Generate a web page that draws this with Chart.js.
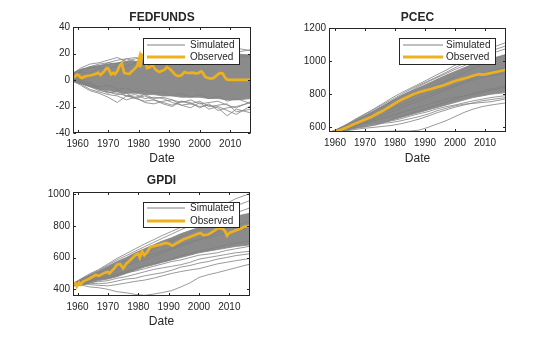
<!DOCTYPE html>
<html>
<head>
<meta charset="utf-8">
<script src="https://cdn.jsdelivr.net/npm/chart.js@4"></script>
<style>
  html, body { margin: 0; background: #fff; }
  #fig { position: relative; width: 560px; height: 337px; overflow: hidden; }
  #fig canvas { position: absolute; }
</style>
</head>
<body>
<div id="fig">
  <canvas id="fedfunds" width="280" height="168" style="left:0;top:0"></canvas>
  <canvas id="pcec" width="280" height="168" style="left:280px;top:0"></canvas>
  <canvas id="gpdi" width="280" height="172" style="left:0;top:165px"></canvas>
</div>
<script>
const dateTicks = [1960, 1970, 1980, 1990, 2000, 2010];

// grid shared by the simulated paths and the band of the bulk of them
const simYears = [1958, 1961, 1964, 1967, 1970, 1973, 1976, 1979, 1982, 1985, 1988, 1991, 1994, 1997, 2000, 2003, 2006, 2009, 2012, 2017];

// ---- FEDFUNDS
const fedTicks = [-40, -20, 0, 20, 40];
const fedYears = [1958, 1959.25, 1959.75, 1960.0, 1960.5, 1961.0, 1961.5, 1962.0, 1963.0, 1964.0, 1965.0, 1966.0, 1966.75, 1967.5, 1968.5, 1969.5, 1970.0, 1971.0, 1971.75, 1972.25, 1973.0, 1973.75, 1974.5, 1975.25, 1976.0, 1977.0, 1977.75, 1978.5, 1979.5, 1980.25, 1980.5, 1981.0, 1981.5, 1982.25, 1982.75, 1983.5, 1984.5, 1985.5, 1986.75, 1987.5, 1988.5, 1989.25, 1990.25, 1991.0, 1992.0, 1993.0, 1994.0, 1995.0, 1996.0, 1997.5, 1998.75, 1999.5, 2000.5, 2001.0, 2001.75, 2002.5, 2003.5, 2004.5, 2005.5, 2006.5, 2007.5, 2008.0, 2008.75, 2009.5, 2012.0, 2015.75, 2017];
const fedObserved = [1.5, 2.8, 3.9, 4.0, 3.2, 1.8, 1.5, 2.2, 3.0, 3.4, 4.0, 4.6, 5.5, 3.8, 6.0, 9.0, 8.9, 4.2, 5.4, 4.3, 6.5, 10.5, 12.5, 5.5, 4.9, 4.7, 6.5, 8.0, 10.5, 17.0, 9.5, 19.0, 18.0, 14.0, 9.0, 9.5, 11.5, 7.9, 6.0, 6.7, 7.8, 9.8, 8.2, 6.5, 3.8, 3.0, 3.5, 6.0, 5.3, 5.5, 5.0, 5.1, 6.5, 5.6, 2.5, 1.7, 1.0, 1.4, 3.3, 5.25, 5.0, 3.0, 0.5, 0.15, 0.15, 0.15, 0.4];
const fedBandHi = [5, 8, 10, 11, 12, 13, 14, 14, 15, 15, 16, 16, 17, 17, 18, 18, 19, 19, 19, 19];
const fedBandLo = [-1, -3, -5, -7, -8, -9, -10, -10, -11, -11, -12, -12, -13, -13, -13, -14, -14, -15, -15, -14];
const fedSim = [
  [4, 9, 12, 13, 15, 17, 14, 16, 18, 17, 16, 19, 18, 17, 20, 19, 21, 22, 24, 22],
  [2, 7, 10, 12, 13, 12, 16, 17, 15, 18, 19, 17, 19, 20, 18, 21, 20, 19, 21, 23],
  [0, -4, -8, -10, -13, -17, -12, -14, -16, -15, -17, -19, -16, -18, -20, -19, -21, -27, -22, -25],
  [1, -3, -7, -9, -11, -12, -15, -13, -17, -18, -16, -15, -19, -21, -17, -22, -20, -23, -26, -19],
  [3, -2, -5, -8, -9, -11, -10, -14, -12, -15, -18, -20, -16, -17, -21, -18, -23, -21, -20, -17],
  [2, -1, -4, -7, -10, -8, -12, -11, -14, -13, -14, -17, -19, -18, -16, -20, -19, -18, -24, -22],
  [4, 8, 9, 10, 13, 15, 16, 14, 13, 16, 18, 16, 15, 19, 17, 18, 17, 21, 20, 18],
  [1, -2, -3, -6, -9, -10, -12, -13, -11, -14, -13, -15, -17, -15, -18, -17, -16, -19, -21, -16],
  [3, 6, 5, 9, 8, 11, 10, 13, 12, 14, 13, 15, 14, 16, 15, 17, 16, 17, 18, 17],
  [2, 0, -2, -5, -4, -7, -6, -9, -8, -10, -9, -12, -10, -13, -11, -14, -12, -16, -14, -18]
];

// ---- PCEC
const pcecTicks = [600, 800, 1000, 1200];
const pcecYears = [1958, 1960, 1962, 1964, 1966, 1968, 1970, 1972, 1974, 1976, 1978, 1980, 1982, 1984, 1986, 1988, 1990, 1992, 1994, 1996, 1998, 2000, 2002, 2004, 2006, 2008, 2009, 2010, 2012, 2014, 2017];
const pcecObserved = [566, 574, 585, 600, 617, 632, 648, 662, 682, 700, 722, 745, 765, 782, 798, 812, 823, 832, 843, 853, 866, 880, 890, 900, 912, 921, 918, 920, 928, 936, 948];
const pcecBandHi = [568, 590, 615, 645, 672, 700, 730, 760, 790, 815, 840, 865, 890, 915, 938, 960, 982, 998, 1015, 1040];
const pcecBandLo = [566, 575, 588, 600, 612, 622, 633, 645, 660, 675, 690, 705, 720, 735, 750, 765, 780, 790, 800, 810];
const pcecSim = [
  [568, 592, 620, 652, 682, 712, 745, 778, 808, 835, 862, 890, 918, 945, 975, 1000, 1030, 1055, 1080, 1112],
  [567, 590, 617, 648, 678, 708, 738, 768, 798, 828, 855, 880, 905, 932, 960, 988, 1015, 1040, 1062, 1092],
  [567, 588, 612, 640, 668, 698, 728, 760, 790, 818, 848, 875, 900, 925, 950, 972, 995, 1020, 1045, 1075],
  [566, 570, 572, 574, 575, 575, 576, 577, 578, 578, 583, 600, 620, 640, 665, 690, 710, 725, 735, 748],
  [567, 578, 590, 600, 605, 612, 625, 630, 640, 652, 665, 680, 700, 715, 730, 740, 745, 750, 755, 772],
  [567, 575, 585, 598, 610, 620, 628, 640, 652, 668, 682, 695, 712, 725, 735, 748, 760, 770, 780, 792],
  [567, 582, 598, 612, 625, 640, 655, 672, 688, 705, 722, 738, 755, 770, 782, 790, 800, 810, 825, 842],
  [567, 585, 605, 625, 648, 670, 690, 712, 735, 755, 775, 795, 815, 835, 855, 870, 885, 900, 910, 927],
  [567, 580, 595, 610, 630, 650, 672, 695, 718, 740, 760, 780, 802, 825, 848, 872, 895, 918, 940, 962],
  [567, 586, 608, 632, 655, 680, 705, 730, 756, 780, 805, 830, 855, 880, 905, 930, 955, 980, 1005, 1040],
  [567, 572, 580, 588, 595, 600, 606, 612, 622, 635, 650, 668, 688, 705, 722, 735, 748, 760, 768, 780],
  [567, 576, 583, 594, 602, 615, 630, 648, 665, 682, 700, 718, 735, 752, 770, 788, 805, 820, 832, 850]
];

// ---- GPDI
const gpdiTicks = [400, 600, 800, 1000];
const gpdiYears = [1958, 1959.25, 1959.75, 1960.5, 1961, 1961.75, 1962.5, 1964, 1966, 1967, 1969, 1970, 1970.5, 1972, 1973, 1974, 1975, 1976, 1978, 1979, 1980, 1980.5, 1981.25, 1982, 1983, 1984, 1985, 1987, 1989, 1990, 1991.25, 1993, 1995, 1997, 1999, 2000.5, 2001.5, 2003, 2005, 2006, 2007.5, 2008.5, 2009.25, 2010, 2012, 2014, 2015, 2017];
const gpdiObserved = [425, 440, 418, 442, 430, 448, 455, 468, 490, 485, 505, 510, 500, 530, 555, 560, 532, 560, 595, 615, 625, 600, 640, 615, 635, 668, 672, 680, 692, 688, 675, 695, 715, 730, 745, 755, 740, 745, 768, 783, 785, 770, 738, 755, 770, 785, 795, 800];
const gpdiBandHi = [432, 460, 490, 515, 545, 575, 600, 630, 655, 680, 705, 725, 750, 770, 790, 810, 830, 845, 860, 880];
const gpdiBandLo = [420, 425, 440, 455, 465, 480, 500, 520, 540, 555, 570, 585, 600, 615, 630, 640, 650, 660, 670, 680];
const gpdiSim = [
  [430, 428, 415, 410, 400, 385, 378, 368, 362, 370, 380, 392, 415, 440, 475, 492, 505, 520, 535, 560],
  [428, 435, 430, 425, 422, 430, 440, 450, 458, 470, 485, 500, 512, 522, 530, 545, 560, 570, 580, 595],
  [435, 440, 445, 448, 455, 470, 480, 495, 510, 525, 535, 545, 555, 570, 590, 600, 610, 620, 630, 640],
  [430, 465, 498, 525, 560, 595, 625, 655, 685, 712, 740, 765, 790, 820, 850, 880, 910, 940, 970, 1005],
  [432, 462, 492, 520, 552, 585, 612, 640, 668, 695, 722, 748, 775, 800, 825, 850, 875, 900, 925, 960],
  [428, 450, 470, 495, 520, 540, 560, 585, 605, 625, 640, 660, 680, 700, 715, 725, 740, 755, 770, 790],
  [425, 440, 458, 470, 485, 500, 512, 530, 548, 560, 575, 590, 610, 625, 640, 650, 665, 680, 690, 705],
  [430, 455, 480, 505, 530, 555, 580, 600, 625, 650, 680, 705, 730, 755, 780, 805, 830, 855, 880, 915],
  [426, 445, 462, 480, 505, 522, 548, 570, 585, 610, 630, 652, 672, 690, 712, 735, 760, 785, 800, 830],
  [428, 432, 438, 435, 440, 452, 465, 470, 485, 495, 505, 520, 540, 550, 565, 575, 590, 600, 612, 625],
  [430, 438, 452, 465, 470, 490, 505, 515, 530, 545, 560, 575, 585, 600, 615, 622, 630, 645, 655, 672]
];

const INK = "#262626";
const SIM_GREY = "#808080";
const OBS_ORANGE = "#EDB120";
const FONT = "'Liberation Sans', Arial, Helvetica, sans-serif";

function pts(xs, ys) {
  return xs.map((x, i) => ({ x: x, y: ys[i] }));
}

// box, inward ticks, title and legend in MATLAB axes style
const axesFrame = {
  id: "axesFrame",
  afterDatasetsDraw(chart, args, opts) {
    const ctx = chart.ctx;
    const a = chart.chartArea;
    const L = Math.round(a.left) + 0.5, R = Math.round(a.right) - 0.5;
    const T = Math.round(a.top) + 0.5, B = Math.round(a.bottom) - 0.5;
    ctx.save();
    ctx.strokeStyle = INK;
    ctx.lineWidth = 1;
    ctx.strokeRect(L, T, R - L, B - T);

    const tk = 2.5;
    ctx.beginPath();
    chart.scales.x.ticks.forEach(t => {
      const px = Math.round(chart.scales.x.getPixelForValue(t.value)) + 0.5;
      ctx.moveTo(px, B); ctx.lineTo(px, B - tk);
      ctx.moveTo(px, T); ctx.lineTo(px, T + tk);
    });
    chart.scales.y.ticks.forEach(t => {
      const py = Math.round(chart.scales.y.getPixelForValue(t.value)) + 0.5;
      ctx.moveTo(L, py); ctx.lineTo(L + tk, py);
      ctx.moveTo(R, py); ctx.lineTo(R - tk, py);
    });
    ctx.stroke();

    // title
    ctx.fillStyle = INK;
    ctx.font = "bold 12px " + FONT;
    ctx.textAlign = "center";
    ctx.textBaseline = "middle";
    ctx.fillText(opts.title, (a.left + a.right) / 2, opts.titleY);

    // legend
    const lg = opts.legend;
    ctx.fillStyle = "#fff";
    ctx.fillRect(lg.x, lg.y, lg.w, lg.h);
    ctx.strokeStyle = INK;
    ctx.lineWidth = 1;
    ctx.strokeRect(lg.x + 0.5, lg.y + 0.5, lg.w - 1, lg.h - 1);
    ctx.beginPath();
    ctx.strokeStyle = SIM_GREY;
    ctx.lineWidth = 1;
    ctx.moveTo(lg.x0, lg.r1); ctx.lineTo(lg.x1, lg.r1);
    ctx.stroke();
    ctx.beginPath();
    ctx.strokeStyle = OBS_ORANGE;
    ctx.lineWidth = 3;
    ctx.moveTo(lg.x0, lg.r2); ctx.lineTo(lg.x1, lg.r2);
    ctx.stroke();
    ctx.fillStyle = INK;
    ctx.font = "10px " + FONT;
    ctx.textAlign = "left";
    ctx.fillText("Simulated", lg.tx, lg.r1);
    ctx.fillText("Observed", lg.tx, lg.r2);
    ctx.restore();
  }
};

function makePanel(id, p) {
  const canvas = document.getElementById(id);
  const H = canvas.height, W = canvas.width;
  const datasets = [];
  datasets.push({
    data: pts(p.obsYears, p.observed),
    borderColor: OBS_ORANGE,
    borderWidth: 2.7,
    pointRadius: 0,
    fill: false
  });
  p.sims.forEach(s => datasets.push({
    data: pts(simYears, s),
    borderColor: SIM_GREY,
    borderWidth: 0.8,
    pointRadius: 0,
    fill: false
  }));
  // upper edge of the bulk of the paths, filled down to the lower edge
  datasets.push({
    data: pts(simYears, p.bandHi),
    borderColor: SIM_GREY,
    borderWidth: 0.8,
    backgroundColor: "#8b8b8b",
    pointRadius: 0,
    fill: "+1"
  });
  datasets.push({
    data: pts(simYears, p.bandLo),
    borderColor: SIM_GREY,
    borderWidth: 0.8,
    pointRadius: 0,
    fill: false
  });

  return new Chart(canvas, {
    type: "line",
    data: { datasets: datasets },
    options: {
      responsive: false,
      animation: false,
      devicePixelRatio: 1,
      clip: 0,
      layout: { padding: { left: 0, right: W - p.area.right, top: p.area.top, bottom: 0 } },
      plugins: {
        legend: { display: false },
        tooltip: { enabled: false },
        axesFrame: { title: p.title, titleY: p.titleY, legend: p.legend }
      },
      scales: {
        x: {
          type: "linear",
          min: p.xMin,
          max: p.xMax,
          grid: { display: false, drawTicks: false },
          border: { display: false },
          afterBuildTicks: s => { s.ticks = dateTicks.map(v => ({ value: v })); },
          afterFit: s => { s.height = H - p.area.bottom; },
          ticks: {
            padding: 5,
            maxRotation: 0,
            autoSkip: false,
            color: INK,
            font: { family: FONT, size: 10 },
            callback: v => String(v)
          },
          title: {
            display: true,
            text: "Date",
            color: INK,
            font: { family: FONT, size: 12 },
            padding: { top: 0, bottom: p.dateGap }
          }
        },
        y: {
          min: p.yMin,
          max: p.yMax,
          grid: { display: false, drawTicks: false },
          border: { display: false },
          afterBuildTicks: s => { s.ticks = p.yTicks.map(v => ({ value: v })); },
          afterFit: s => { s.width = p.area.left; },
          ticks: {
            padding: 3,
            autoSkip: false,
            color: INK,
            font: { family: FONT, size: 10 },
            callback: v => String(v)
          }
        }
      }
    },
    plugins: [axesFrame]
  });
}

makePanel("fedfunds", {
  title: "FEDFUNDS", titleY: 18,
  area: { left: 73, right: 251, top: 27, bottom: 133 },
  xMin: 1958.5, xMax: 2016.8,
  yMin: -40, yMax: 40, yTicks: fedTicks,
  obsYears: fedYears, observed: fedObserved,
  bandHi: fedBandHi, bandLo: fedBandLo, sims: fedSim,
  dateGap: 2,
  legend: { x: 143, y: 38, w: 97, h: 27, x0: 147, x1: 185, tx: 190, r1: 45, r2: 57 }
});

makePanel("pcec", {
  title: "PCEC", titleY: 18,
  area: { left: 49, right: 226, top: 28, bottom: 132 },
  xMin: 1958.0, xMax: 2017.0,
  yMin: 572, yMax: 1200, yTicks: pcecTicks,
  obsYears: pcecYears, observed: pcecObserved,
  bandHi: pcecBandHi, bandLo: pcecBandLo, sims: pcecSim,
  dateGap: 2,
  legend: { x: 119, y: 38, w: 97, h: 27, x0: 123, x1: 163, tx: 166, r1: 45, r2: 57 }
});

makePanel("gpdi", {
  title: "GPDI", titleY: 16,
  area: { left: 73, right: 250, top: 27, bottom: 131 },
  xMin: 1958.5, xMax: 2016.8,
  yMin: 358, yMax: 1013, yTicks: gpdiTicks,
  obsYears: gpdiYears, observed: gpdiObserved,
  bandHi: gpdiBandHi, bandLo: gpdiBandLo, sims: gpdiSim,
  dateGap: 8,
  legend: { x: 143, y: 37, w: 97, h: 26, x0: 147, x1: 185, tx: 190, r1: 43, r2: 56 }
});
</script>
</body>
</html>
